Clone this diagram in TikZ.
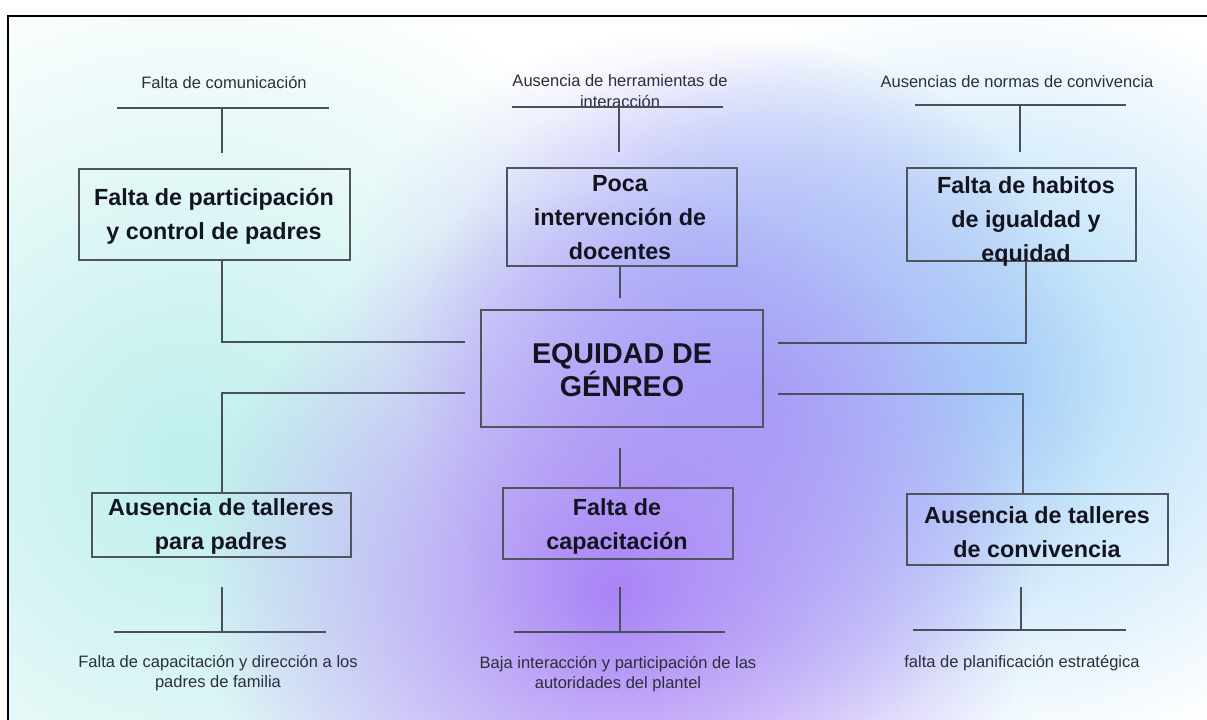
\documentclass[tikz,border=0pt]{standalone}
\usepackage{fontspec}
\setmainfont{Liberation Sans}
\usetikzlibrary{fit,fadings}
\tikzfading[name=blobfade, inner color=transparent!0, outer color=transparent!100]
\definecolor{linec}{HTML}{4A4F5C}
\definecolor{boxc}{HTML}{50545E}
\definecolor{txt}{HTML}{141420}
\definecolor{txtb}{HTML}{2E2E3A}
\definecolor{bcyan}{HTML}{BDEFEC}
\definecolor{bblue}{HTML}{A6D8F8}
\definecolor{blav}{HTML}{A8ACF8}
\definecolor{bpurp}{HTML}{A984F6}
\definecolor{blight}{HTML}{C6C6FA}
\begin{document}
\begin{tikzpicture}[x=0.75pt,y=-0.75pt,
  box/.style={draw=boxc, line width=0.9pt, inner sep=0pt},
  conn/.style={draw=linec, line width=1.1pt},
  bigt/.style={font=\fontsize{17.5}{25.5}\selectfont\bfseries, align=center, text=txt, inner sep=0pt},
  ctr/.style={font=\fontsize{21.5}{22.5}\selectfont\bfseries, align=center, text=txt, inner sep=0pt},
  small/.style={font=\fontsize{12.4}{15.5}\selectfont, align=center, text=txtb, inner sep=0pt}]
\useasboundingbox (0,0) rectangle (1207,720);
\fill[white] (0,0) rectangle (1207,720);
% background blobs
\begin{scope}
\clip (8,16) rectangle (1207,720);
\fill[bcyan, path fading=blobfade] (190,460) ellipse [x radius=380pt, y radius=380pt];
\fill[blight, path fading=blobfade] (700,270) ellipse [x radius=260pt, y radius=180pt];
\fill[bblue, path fading=blobfade] (980,380) ellipse [x radius=330pt, y radius=290pt];
\fill[blav, path fading=blobfade] (760,390) ellipse [x radius=260pt, y radius=260pt];
\fill[bpurp, path fading=blobfade] (615,590) ellipse [x radius=310pt, y radius=300pt];
\end{scope}
% frame
\draw[line width=1.5pt, black] (8,720) -- (8,16) -- (1207,16);
% boxes
\node[box, fit={(79,169) (350,260)}] (b1) {};
\node[box, fit={(507,168) (737,266)}] (b2) {};
\node[box, fit={(907,168) (1136,261)}] (b3) {};
\node[box, fit={(481,310) (763,427)}] (c) {};
\node[box, fit={(92,493) (351,557)}] (b4) {};
\node[box, fit={(503,488) (733,559)}] (b5) {};
\node[box, fit={(907,494) (1168,565)}] (b6) {};
% box texts
\node[bigt] (t1) at (214,216) {Falta de participación\\y control de padres};
\node[bigt] (t2) at (620,218) {Poca\\intervención de\\docentes};
\node[bigt] (t3) at (1026,221) {Falta de habitos\\de igualdad y\\equidad};
\node[ctr] (tc) at (622,370) {EQUIDAD DE\\GÉNREO};
\node[bigt] (t4) at (221,526) {Ausencia de talleres\\para padres};
\node[bigt] (t5) at (617,526) {Falta de\\capacitación};
\node[bigt] (t6) at (1037,532) {Ausencia de talleres\\de convivencia};
% small labels
\node[small] (l1) at (224,82) {Falta de comunicación};
\node[small] (l2) at (620,91) {Ausencia de herramientas de\\interacción};
\node[small] (l3) at (1017,82) {Ausencias de normas de convivencia};
\node[small] (l4) at (218,673) {Falta de capacitación y dirección a los\\padres de familia};
\node[small] (l5) at (618,674) {Baja interacción y participación de las\\autoridades del plantel};
\node[small] (l6) at (1022,663) {falta de planificación estratégica};
% top bars
\coordinate (a1l) at (117,108); \coordinate (a1r) at (329,108); \coordinate (a1m) at (222,108); \coordinate (a1e) at (222,153);
\coordinate (a2l) at (512,107); \coordinate (a2r) at (723,107); \coordinate (a2m) at (619,107); \coordinate (a2e) at (619,152);
\coordinate (a3l) at (915,105); \coordinate (a3r) at (1126,105); \coordinate (a3m) at (1020,105); \coordinate (a3e) at (1020,152);
\draw[conn] (a1l) -- (a1r); \draw[conn] (a1m) -- (a1e);
\draw[conn] (a2l) -- (a2r); \draw[conn] (a2m) -- (a2e);
\draw[conn] (a3l) -- (a3r); \draw[conn] (a3m) -- (a3e);
% bottom bars
\coordinate (d1l) at (114,632); \coordinate (d1r) at (326,632); \coordinate (d1m) at (222,632); \coordinate (d1s) at (222,587);
\coordinate (d2l) at (514,632); \coordinate (d2r) at (725,632); \coordinate (d2m) at (620,632); \coordinate (d2s) at (620,587);
\coordinate (d3l) at (913,630); \coordinate (d3r) at (1126,630); \coordinate (d3m) at (1021,630); \coordinate (d3s) at (1021,587);
\draw[conn] (d1l) -- (d1r); \draw[conn] (d1s) -- (d1m);
\draw[conn] (d2l) -- (d2r); \draw[conn] (d2s) -- (d2m);
\draw[conn] (d3l) -- (d3r); \draw[conn] (d3s) -- (d3m);
% connectors to centre
\coordinate (k1) at (222,342); \coordinate (j1) at (465,342);
\coordinate (k4) at (222,393); \coordinate (j4) at (465,393);
\coordinate (k3) at (1026,343); \coordinate (j3) at (778,343);
\coordinate (k6) at (1023,394); \coordinate (j6) at (778,394);
\coordinate (k2) at (620,298);
\coordinate (k5) at (620,448);
\draw[conn] (k1 |- b1.south) -- (k1) -- (j1);
\draw[conn] (j4) -- (k4) -- (k4 |- b4.north);
\draw[conn] (k3 |- b3.south) -- (k3) -- (j3);
\draw[conn] (j6) -- (k6) -- (k6 |- b6.north);
\draw[conn] (k2 |- b2.south) -- (k2);
\draw[conn] (k5) -- (k5 |- b5.north);
\end{tikzpicture}
\end{document}
